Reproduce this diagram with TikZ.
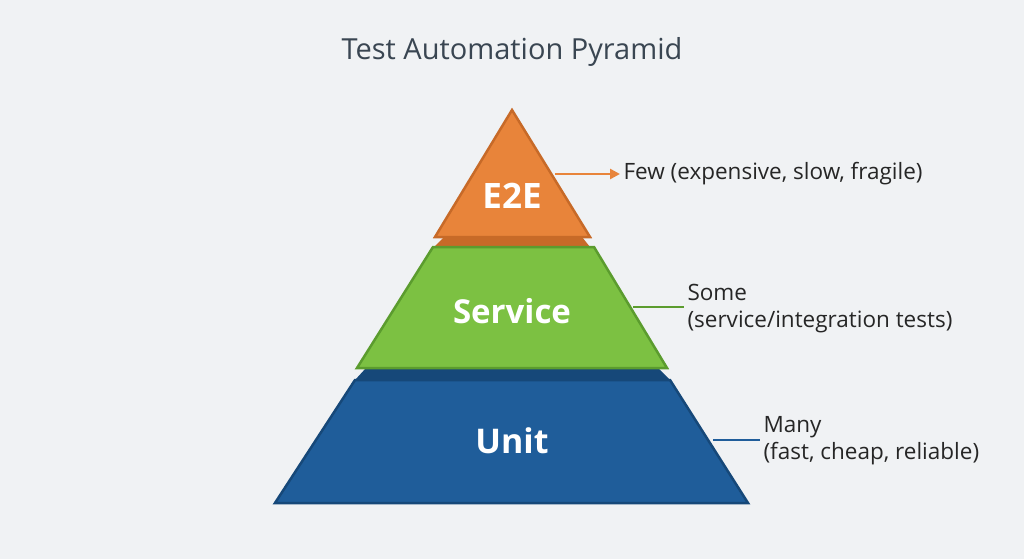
\documentclass[tikz,border=0pt]{standalone}
\usepackage{fontspec}
\setmainfont{Open Sans}
\usetikzlibrary{arrows.meta, positioning}
\definecolor{bgc}{HTML}{F0F2F4}
\definecolor{titlec}{HTML}{3A4652}
\definecolor{e2ec}{HTML}{E8843A}
\definecolor{e2ed}{HTML}{C76A28}
\definecolor{svcc}{HTML}{7CC142}
\definecolor{svcd}{HTML}{5B9C2E}
\definecolor{unitc}{HTML}{1F5D9A}
\definecolor{unitd}{HTML}{164879}
\begin{document}
\begin{tikzpicture}[x=1pt,y=-1pt]
    \tikzstyle{tier}=[line width=2.5pt, line join=miter]
    \tikzstyle{tiertext}=[text=white, font=\fontsize{33}{33}\selectfont\bfseries]
    \tikzstyle{note}=[anchor=west, align=left, text=black!85, font=\fontsize{22.5}{27}\selectfont]

    \fill[bgc] (0,0) rectangle (1024,559);
    \node[text=titlec, font=\fontsize{29}{29}\selectfont] (title) at (512,52) {Test Automation Pyramid};

    % tiers
    \fill[unitd] (366,368) -- (658,368) -- (670,380) -- (355,380) -- cycle;
    \draw[tier, fill=unitc, draw=unitd] (355,380) -- (670,380) -- (748,503) -- (275,503) -- cycle;
    \fill[e2ed] (444,237) -- (582,237) -- (590,247) -- (434,247) -- cycle;
    \draw[tier, fill=svcc, draw=svcd] (433,247) -- (594,247) -- (667,368) -- (357,368) -- cycle;
    \draw[tier, fill=e2ec, draw=e2ed] (512,110) -- (590,237) -- (435,237) -- cycle;

    \node[tiertext, font=\fontsize{35}{35}\selectfont\bfseries] (e2e) at (512,196) {E2E};
    \node[tiertext] (svc) at (512,311) {Service};
    \node[tiertext, font=\fontsize{34}{34}\selectfont\bfseries] (unit) at (512,441) {Unit};

    % notes
    \node[note] (few) at (620,174) {Few (expensive, slow, fragile)};
    \node[note] (some) at (684,309) {Some\\(service/integration tests)};
    \node[note] (many) at (760,441) {Many\\(fast, cheap, reliable)};

    \coordinate (e2eR) at (555,174);
    \coordinate (svcR) at (633,307);
    \coordinate (unitR) at (713,440);

    \draw[e2ec, line width=2.5pt, -{Triangle[length=10pt,width=10pt]}] (e2eR) -- (few.west);
    \draw[svcd, line width=2pt] (svcR) -- (some.west |- svcR);
    \draw[unitc, line width=2pt] (unitR) -- (many.west |- unitR);
\end{tikzpicture}
\end{document}
